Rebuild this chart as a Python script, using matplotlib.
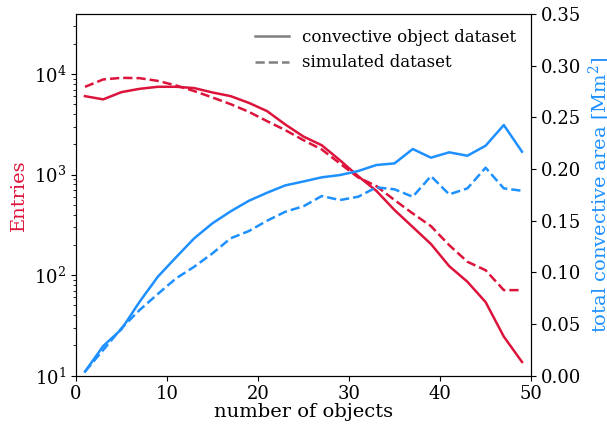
import matplotlib
matplotlib.use('Agg')
import matplotlib.pyplot as plt
from matplotlib.lines import Line2D

plt.rcParams['font.family'] = 'DejaVu Serif'
plt.rcParams['mathtext.fontset'] = 'dejavuserif'

# number of objects (bin centres)
n_objects = [1, 3, 5, 7, 9, 11, 13, 15, 17, 19, 21, 23, 25,
             27, 29, 31, 33, 35, 37, 39, 41, 43, 45, 47, 49]

# entries per bin
entries_obs = [6030, 5600, 6610, 7130, 7470, 7470, 7250, 6560, 6030, 5170, 4280, 3150, 2390,
               1960, 1390, 966, 690, 444, 301, 204, 123, 86, 54, 24.5, 13.7]
entries_sim = [7460, 8840, 9170, 9100, 8550, 7700, 6770, 5850, 5020, 4210, 3400, 2770, 2200,
               1780, 1290, 938, 769, 558, 411, 307, 199, 136, 112, 71, 71]

# total convective area [Mm^2]
area_obs = [0.004, 0.0287, 0.0449, 0.0716, 0.0958, 0.1146, 0.1330, 0.1475, 0.1591, 0.1693,
            0.1771, 0.1842, 0.1880, 0.1920, 0.1942, 0.1981, 0.2039, 0.2055, 0.2194, 0.2110,
            0.2162, 0.2129, 0.2226, 0.2426, 0.2168]
area_sim = [0.004, 0.0249, 0.0459, 0.0636, 0.0791, 0.0942, 0.1055, 0.1184, 0.1330, 0.1400,
            0.1500, 0.1587, 0.1640, 0.1739, 0.1700, 0.1732, 0.1823, 0.1804, 0.1732, 0.1932,
            0.1755, 0.1813, 0.2013, 0.1813, 0.1790]

red = '#dc143c'
blue = '#1e90ff'

fig = plt.figure(figsize=(6.07, 4.26), dpi=100)
ax = fig.add_axes([0.125, 0.118, 0.75, 0.849])
ax2 = ax.twinx()

ax.plot(n_objects, entries_obs, color=red, lw=1.8)
ax.plot(n_objects, entries_sim, color=red, lw=1.8, ls='--')
ax2.plot(n_objects, area_obs, color=blue, lw=1.8)
ax2.plot(n_objects, area_sim, color=blue, lw=1.8, ls='--')

ax.set_yscale('log')
ax.set_ylim(10, 3.95e4)
ax.set_xlim(0, 50)
ax2.set_ylim(0, 0.35)

ax.set_xlabel('number of objects', fontsize=14, labelpad=0)
ax.set_ylabel('Entries', color=red, fontsize=14)
ax2.set_ylabel('total convective area [Mm$^2$]', color=blue, fontsize=14)
ax.tick_params(labelsize=13)
ax2.tick_params(labelsize=13)

handles = [Line2D([], [], color='gray', lw=1.8),
           Line2D([], [], color='gray', lw=1.8, ls='--')]
ax2.legend(handles, ['convective object dataset', 'simulated dataset'],
           loc='upper right', frameon=False, fontsize=12)

fig.savefig('out.png', dpi=100)
